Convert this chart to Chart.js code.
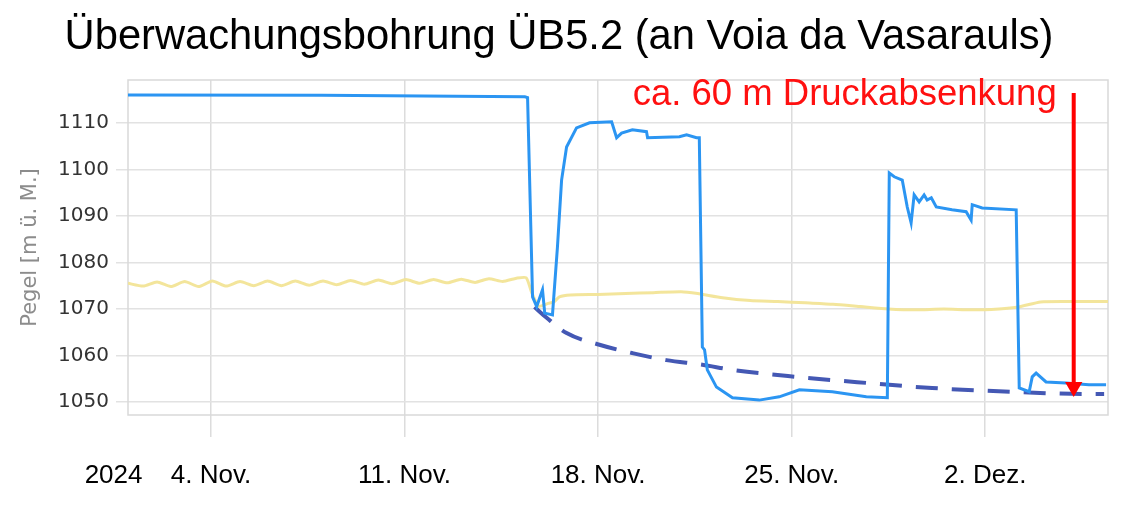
<!DOCTYPE html>
<html>
<head>
<meta charset="utf-8">
<script src="https://cdn.jsdelivr.net/npm/chart.js@4/dist/chart.umd.min.js"></script>
<style>
  html, body { margin: 0; padding: 0; background: #ffffff; }
  #wrap { width: 1125px; height: 511px; }
</style>
</head>
<body>
<div id="wrap"><canvas id="c" width="1125" height="511"></canvas></div>
<script>
// ---- Data (x = days since 1 Nov 2024 00:00, y = level in m ü. M.) ----
const titleText = 'Überwachungsbohrung ÜB5.2 (an Voia da Vasarauls)';
const yAxisTitle = 'Pegel [m ü. M.]';
const annotationText = 'ca. 60 m Druckabsenkung';

const xTickDays   = [0, 3, 10, 17, 24, 31];
const xTickLabels = ['2024    ', '4. Nov.', '11. Nov.', '18. Nov.', '25. Nov.', '2. Dez.'];
const yTicks = [1050, 1060, 1070, 1080, 1090, 1100, 1110];

const blueDays = [0, 7, 14.35, 14.45, 14.63, 14.78, 14.99, 15.07, 15.35, 15.53, 15.68, 15.86, 16.22, 16.69,
  17.49, 17.67, 17.85, 18.24, 18.75, 18.79, 19.94, 20.2, 20.56, 20.66, 20.77, 20.85, 20.95, 21.28, 21.86,
  22.83, 23.55, 24.28, 25.47, 26.7, 27.46, 27.53, 27.71, 28.0, 28.18, 28.32, 28.43, 28.61, 28.79, 28.9,
  29.05, 29.23, 29.8, 30.31, 30.49, 30.53, 30.89, 32.12, 32.23, 32.59, 32.7, 32.84, 33.2, 33.92, 34.75, 35.37];
const blueLevels = [1116.0, 1115.9, 1115.6, 1115.4, 1072.6, 1070.5, 1074.1, 1069.1, 1068.7, 1083.3, 1097.7, 1104.8, 1108.9, 1110.0,
  1110.2, 1106.8, 1107.8, 1108.5, 1108.1, 1106.8, 1107.0, 1107.4, 1106.8, 1106.8, 1061.8, 1061.2, 1056.9, 1053.2, 1050.9,
  1050.4, 1051.1, 1052.6, 1052.2, 1051.1, 1050.9, 1099.2, 1098.4, 1097.7, 1091.9, 1088.5, 1094.5, 1093.0, 1094.5, 1093.4,
  1093.9, 1091.9, 1091.3, 1090.9, 1089.1, 1092.4, 1091.7, 1091.3, 1053.0, 1052.2, 1055.4, 1056.2, 1054.3, 1054.1, 1053.7, 1053.7];

const yellowDays = [0, 0.55, 1.05, 1.55, 2.05, 2.55, 3.05, 3.55, 4.05, 4.55, 5.05, 5.55, 6.05, 6.55, 7.05, 7.55,
  8.05, 8.55, 9.05, 9.55, 10.05, 10.55, 11.05, 11.55, 12.05, 12.55, 13.05, 13.55, 14.05, 14.4, 14.6, 14.85,
  15.2, 15.4, 15.6, 16, 17, 18, 19, 20, 20.6, 21.5, 22.5, 23.5, 24.5, 25.5, 26.5, 27.5, 28.5, 29.5, 30.5,
  31.5, 32.2, 33, 34, 35.44];
const yellowLevels = [1075.5, 1074.9, 1075.8, 1074.8, 1075.9, 1074.8, 1076.0, 1074.9, 1075.9, 1075.0, 1076.0, 1075.0,
  1076.0, 1075.1, 1076.0, 1075.2, 1076.1, 1075.3, 1076.2, 1075.4, 1076.3, 1075.5, 1076.3, 1075.6, 1076.4, 1075.7,
  1076.5, 1075.9, 1076.6, 1076.7, 1073.5, 1070.6, 1071.2, 1071.5, 1072.6, 1073.0, 1073.1, 1073.3, 1073.5, 1073.7,
  1073.3, 1072.4, 1071.8, 1071.6, 1071.3, 1071.0, 1070.5, 1070.0, 1069.8, 1070.0, 1069.8, 1070.0, 1070.4, 1071.5,
  1071.6, 1071.6];

const trendDays   = [14.7, 15.14, 15.86, 17.05, 18.24, 19.47, 20.77, 21.86, 24.17, 26.7, 29.08, 31.97, 34.65, 35.3];
const trendLevels = [1070.4, 1068.1, 1064.8, 1062.3, 1060.5, 1059.0, 1058.0, 1056.9, 1055.4, 1054.1, 1053.0, 1052.2, 1051.7, 1051.7];

const arrowDays   = [34.2, 34.2];
const arrowLevels = [1116.4, 1053.2];

const toPoints = (xs, ys) => xs.map((x, i) => ({ x: x, y: ys[i] }));

// ---- title font size fitted to reference width ----
const meas = document.createElement('canvas').getContext('2d');
meas.font = '40px "Liberation Sans", Arial, sans-serif';
const titleSize = Math.round(40 * 989 / meas.measureText(titleText).width * 10) / 10;

const frameAndNote = {
  id: 'frameAndNote',
  beforeDraw(chart) {
    const ctx = chart.ctx;
    ctx.save();
    ctx.fillStyle = '#ffffff';
    ctx.fillRect(0, 0, chart.width, chart.height);
    ctx.restore();
  },
  beforeDatasetsDraw(chart) {
    const a = chart.chartArea, ctx = chart.ctx;
    ctx.save();
    ctx.strokeStyle = '#d9d9d9';
    ctx.lineWidth = 1.5;
    ctx.strokeRect(a.left, a.top, a.right - a.left, a.bottom - a.top);
    ctx.restore();
  },
  afterDraw(chart) {
    const a = chart.chartArea, ctx = chart.ctx;
    const xs = chart.scales.x;
    ctx.save();
    ctx.fillStyle = '#ff1010';
    ctx.font = '36.5px "Liberation Sans", Arial, sans-serif';
    ctx.textAlign = 'right';
    ctx.textBaseline = 'alphabetic';
    ctx.fillText(annotationText, xs.getPixelForValue(arrowDays[0]) - 17, a.top + 25);
    ctx.restore();
  }
};

new Chart(document.getElementById('c'), {
  type: 'line',
  data: {
    datasets: [
      {
        data: toPoints(arrowDays, arrowLevels),
        borderColor: '#ff0000', backgroundColor: '#ff0000', borderWidth: 4,
        pointStyle: 'triangle', rotation: 180, pointRadius: [0, 10], pointBorderWidth: 0,
        pointBackgroundColor: '#ff0000'
      },
      {
        data: toPoints(blueDays, blueLevels),
        borderColor: '#2b95f2', borderWidth: 3, pointRadius: 0, tension: 0
      },
      {
        data: toPoints(trendDays, trendLevels),
        borderColor: '#4458b4', borderWidth: 4, borderDash: [22, 14], pointRadius: 0,
        cubicInterpolationMode: 'monotone'
      },
      {
        data: toPoints(yellowDays, yellowLevels),
        borderColor: 'rgba(242,228,150,0.95)', borderWidth: 3, pointRadius: 0, tension: 0.2
      }
    ]
  },
  options: {
    responsive: false,
    devicePixelRatio: 1,
    animation: false,
    layout: { padding: { left: 10, right: 17, top: 0, bottom: 0 } },
    plugins: {
      legend: { display: false },
      tooltip: { enabled: false },
      title: {
        display: true,
        text: titleText,
        color: '#000000',
        font: { family: '"Liberation Sans", Arial, sans-serif', size: titleSize, weight: 'normal', lineHeight: 1.2 },
        padding: { top: 12, bottom: 80 - 12 - titleSize * 1.2 }
      }
    },
    scales: {
      x: {
        type: 'linear',
        min: 0,
        max: 35.44,
        afterBuildTicks: (scale) => { scale.ticks = xTickDays.map(v => ({ value: v })); },
        afterFit: (scale) => { scale.height = 96; },
        ticks: {
          autoSkip: false,
          maxRotation: 0,
          padding: 23,
          color: '#000000',
          font: { family: '"Liberation Sans", Arial, sans-serif', size: 26 },
          callback: (value) => xTickLabels[xTickDays.indexOf(value)]
        },
        grid: {
          color: (ctx) => (ctx.tick && ctx.tick.value === 0) ? 'rgba(0,0,0,0)' : '#dcdcdc',
          lineWidth: 1.5,
          tickLength: 22
        },
        border: { display: false }
      },
      y: {
        type: 'linear',
        min: 1047.2,
        max: 1119.2,
        afterBuildTicks: (scale) => { scale.ticks = yTicks.map(v => ({ value: v })); },
        afterFit: (scale) => { scale.width = 118; },
        ticks: {
          padding: 7,
          color: '#333333',
          font: { family: '"DejaVu Sans", sans-serif', size: 20 },
          callback: (value) => String(value)
        },
        grid: { color: '#e2e2e2', lineWidth: 1.5, tickLength: 12 },
        border: { display: false },
        title: {
          display: true,
          text: yAxisTitle,
          color: '#8c8c8c',
          font: { family: '"DejaVu Sans", sans-serif', size: 21 },
          padding: { top: 8, bottom: 0 }
        }
      }
    }
  },
  plugins: [frameAndNote]
});
</script>
</body>
</html>
